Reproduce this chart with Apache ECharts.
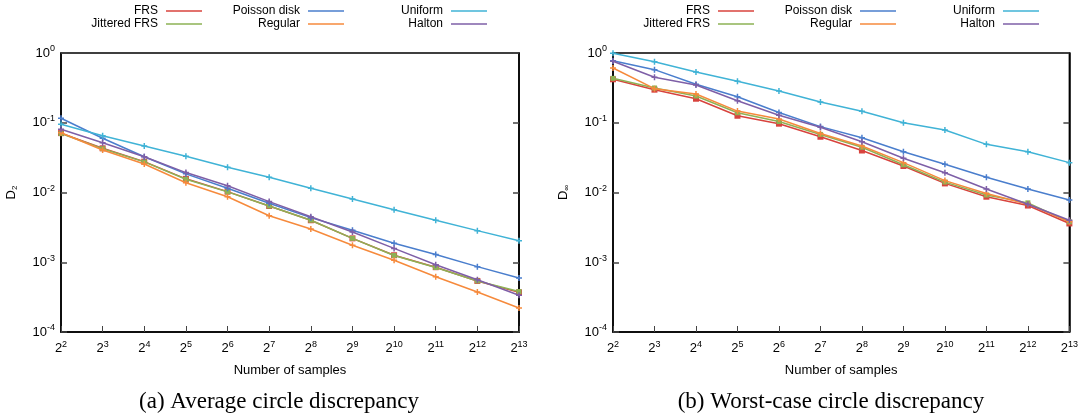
<!DOCTYPE html>
<html><head><meta charset="utf-8">
<script src="https://cdn.jsdelivr.net/npm/echarts@6/dist/echarts.min.js"></script>
<style>html,body{margin:0;padding:0;background:#fff}#c{width:1081px;height:418px}</style>
</head><body><div id="c"></div>
<script>
const samples = [4,8,16,32,64,128,256,512,1024,2048,4096,8192];
const seriesNames = ['FRS','Jittered FRS','Poisson disk','Regular','Uniform','Halton'];

// (a) Average circle discrepancy D2
const avgFRS      = [0.071,0.043,0.0277,0.0157,0.0103,0.0064,0.0040,0.0022,0.00126,0.00085,0.00054,0.00037];
const avgJittered = [0.070,0.0425,0.0275,0.0155,0.0102,0.0064,0.0040,0.0022,0.00125,0.00084,0.00054,0.00038];
const avgPoisson  = [0.116,0.060,0.0326,0.0185,0.0115,0.0070,0.00436,0.00287,0.00187,0.00129,0.000865,0.000595];
const avgRegular  = [0.072,0.0407,0.0256,0.0138,0.0087,0.00465,0.0030,0.00175,0.00107,0.00062,0.000374,0.000221];
const avgUniform  = [0.095,0.065,0.0464,0.033,0.023,0.0165,0.0115,0.00807,0.00567,0.0040,0.00284,0.00204];
const avgHalton   = [0.0805,0.0518,0.0326,0.0193,0.0125,0.0074,0.0045,0.00272,0.00158,0.00092,0.00056,0.000336];

// (b) Worst-case circle discrepancy Dinf
const wcFRS      = [0.42,0.298,0.221,0.126,0.097,0.063,0.040,0.024,0.0135,0.0087,0.0065,0.0036];
const wcJittered = [0.433,0.315,0.242,0.139,0.104,0.068,0.0445,0.025,0.0141,0.0092,0.0071,0.0038];
const wcPoisson  = [0.776,0.577,0.356,0.236,0.14,0.088,0.061,0.0385,0.0254,0.0165,0.0112,0.0078];
const wcRegular  = [0.61,0.308,0.258,0.147,0.113,0.070,0.0464,0.0268,0.0148,0.0097,0.0068,0.0038];
const wcUniform  = [0.99,0.75,0.534,0.393,0.285,0.198,0.146,0.100,0.0787,0.049,0.0385,0.0268];
const wcHalton   = [0.76,0.448,0.348,0.207,0.128,0.086,0.0535,0.031,0.0192,0.0112,0.0068,0.0040];

const colors = ['#d8433d','#8db255','#4a7ecd','#f68a3c','#40b3d6','#7e5fa7'];
const plus = 'path://M3,0h2v3h3v2h-3v3h-2v-3h-3v-2h3z';
const symbols = ['rect','rect',plus,plus,plus,plus];
const symSizes = [6,5,6,6,6,6];

const avgData = [avgFRS,avgJittered,avgPoisson,avgRegular,avgUniform,avgHalton];
const wcData  = [wcFRS,wcJittered,wcPoisson,wcRegular,wcUniform,wcHalton];

const FONT = '"Liberation Sans", Arial, sans-serif';
const grids = [
  {left:61, right:562, top:53, bottom:86, show:true, borderColor:'#000', borderWidth:1.5, backgroundColor:'transparent'},
  {left:613, right:9, top:53, bottom:86, show:true, borderColor:'#000', borderWidth:1.5, backgroundColor:'transparent'}
];

const supRich = {
  base:{fontFamily:FONT,fontSize:13,color:'#000'},
  sup:{fontFamily:FONT,fontSize:9,color:'#000',verticalAlign:'bottom',padding:[0,0,8,0]}
};

function xAxis(gi){
  return {type:'log', logBase:2, gridIndex:gi, min:4, max:8192, interval:1, splitNumber:11,
    axisLine:{show:true, lineStyle:{color:'#000', width:1.5}},
    axisTick:{show:true, inside:true, length:6, lineStyle:{color:'#444'}},
    splitLine:{show:false}, minorTick:{show:false},
    axisLabel:{margin:8, hideOverlap:false, showMinLabel:true, showMaxLabel:true,
      formatter:v=>'{base|2}{sup|'+Math.round(Math.log2(v))+'}', rich:supRich},
    name:'Number of samples', nameLocation:'middle', nameGap:32,
    nameTextStyle:{fontFamily:FONT, fontSize:13, color:'#000'}
  };
}
function yAxis(gi, nameMain, nameSub, right){
  const ax = {type:'log', logBase:10, gridIndex:gi, min:1e-4, max:1, interval:1,
    position: right?'right':'left',
    axisLine:{show:true, onZero:false, lineStyle:{color:'#000', width:1.5}},
    axisTick:{show:true, inside:true, length:6, lineStyle:{color:'#444', width:1.5}},
    splitLine:{show:false}, minorTick:{show:false},
    axisLabel:{show:!right, margin:6, formatter:v=>'{base|10}{sup|'+Math.round(Math.log10(v))+'}', rich:supRich}
  };
  if(!right){
    ax.name = '{m|'+nameMain+'}{s|'+nameSub+'}';
    ax.nameLocation='middle'; ax.nameGap=42; ax.nameRotate=90;
    ax.nameTextStyle={rich:{m:{fontFamily:FONT,fontSize:13,color:'#000'},s:{fontFamily:FONT,fontSize:8,color:'#000',verticalAlign:'top',padding:[7,0,0,0]}}};
  }
  return ax;
}

const xAxes=[xAxis(0),xAxis(1)];
const yAxes=[yAxis(0,'D','2',false), yAxis(0,'','',true), yAxis(1,'D','∞',false), yAxis(1,'','',true)];

const series=[];
[avgData, wcData].forEach((set,gi)=>{
  set.forEach((vals,i)=>{
    series.push({
      name:seriesNames[i], type:'line', xAxisIndex:gi, yAxisIndex:gi*2,
      data: samples.map((s,k)=>[s, vals[k]]),
      symbol:symbols[i], symbolSize:symSizes[i], showSymbol:true,
      lineStyle:{width:1.5, color:colors[i]},
      itemStyle:{color:colors[i], borderWidth:0},
      emphasis:{disabled:true}, animation:false, z:2+i
    });
  });
});

// legends: one per item, positioned like the original layout
const legendCols = [[0,1],[2,3],[4,5]];
const colRight = [[879,737,594],[327,185,42]];
const rowTop = [5,18];
const legends=[];
[0,1].forEach(gi=>{
  legendCols.forEach((col,ci)=>{
    col.forEach((si,ri)=>{
      legends.push({
        data:[{name:seriesNames[si], icon:'rect'}],
        right: colRight[gi][ci], top: rowTop[ri],
        align:'right', itemWidth:36, itemHeight:1.5, padding:0,
        selectedMode:false,
        textStyle:{fontFamily:FONT, fontSize:12, color:'#000', padding:[0,3,0,0]},
        itemStyle:{color:colors[si]}
      });
    });
  });
});

const chart = echarts.init(document.getElementById('c'), null, {renderer:'canvas'});
chart.setOption({
  animation:false,
  backgroundColor:'#fff',
  color:colors,
  grid:grids,
  xAxis:xAxes,
  yAxis:yAxes,
  legend:legends,
  title:[
    {text:'(a) Average circle discrepancy', left:274, top:385, textAlign:'center',
      textStyle:{fontFamily:'"Liberation Serif", "Times New Roman", serif', fontSize:23, fontWeight:'normal', color:'#000'}},
    {text:'(b) Worst-case circle discrepancy', left:826, top:385, textAlign:'center',
      textStyle:{fontFamily:'"Liberation Serif", "Times New Roman", serif', fontSize:23, fontWeight:'normal', color:'#000'}}
  ],
  series:series
});
</script></body></html>
